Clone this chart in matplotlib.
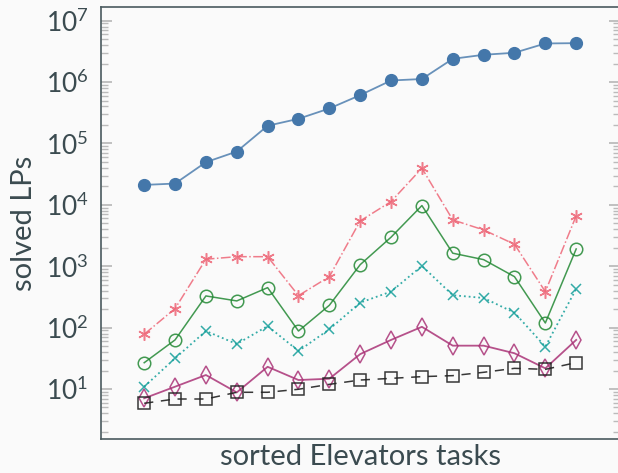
import numpy as np
import matplotlib
matplotlib.use('Agg')
import matplotlib.pyplot as plt
from matplotlib.ticker import LogLocator, FuncFormatter, NullFormatter

tasks = np.arange(1, 16)
lp_blue = [21100, 22200, 49500, 73800, 194000, 252000, 371000, 612000,
           1.06e6, 1.12e6, 2.39e6, 2.78e6, 3.0e6, 4.25e6, 4.3e6]
lp_star = [78, 204, 1300, 1430, 1430, 332, 676, 5470, 11300, 39500,
           5680, 3900, 2280, 385, 6610]
lp_circle = [26.8, 63, 328, 272, 448, 88, 231, 1060, 2970, 9730,
             1630, 1280, 676, 119, 1910]
lp_cross = [10.9, 31.6, 88, 54, 106, 41.6, 94, 255, 386, 1010,
            337, 304, 175, 48.9, 427]
lp_diamond = [7.05, 10.9, 16.9, 8.8, 23, 14, 14.7, 37, 63, 103,
              50.8, 50.8, 38.2, 21.7, 63]
lp_square = [5.85, 6.87, 6.87, 8.84, 8.84, 9.9, 11.9, 14, 14.9, 15.9,
             16.5, 18.7, 21.7, 20.9, 26.9]

txt = '#3b4b50'
plt.rcParams['font.family'] = ['Lato', 'DejaVu Sans']
plt.rcParams['mathtext.fontset'] = 'custom'
plt.rcParams['mathtext.rm'] = 'Lato'

fig = plt.figure(figsize=(6.18, 4.73), dpi=100, facecolor='#fafafa')
ax = fig.add_axes([101/618, 34.3/473, 519/618, 431.4/473], facecolor='#fafafa')

ax.plot(tasks, lp_blue, '-', color='#4477aa', lw=1.3, alpha=0.8)
ax.plot(tasks, lp_blue, 'o', color='#4477aa', ms=8.5)
ax.plot(tasks, lp_star, '-.', marker=(6, 2, 0), color='#ee6677', lw=1.1, ms=9,
        mew=1.1, alpha=0.85)
ax.plot(tasks, lp_circle, '-o', color='#228833', lw=1.1, ms=9, mfc='none', mew=1.1, alpha=0.85)
ax.plot(tasks, lp_cross, ':x', color='#119e99', lw=1.3, ms=6.5, mew=1.1, alpha=0.85)
ax.plot(tasks, lp_diamond, '-d', color='#aa3377', lw=1.3, ms=9, mfc='none', mew=1.1, alpha=0.85)
ax.plot(tasks, lp_square, '--s', color='#222222', lw=1.1, ms=8, mfc='none', mew=1.1,
        dashes=(6, 5), alpha=0.9)

ax.set_yscale('log')
ax.set_xlim(-0.40, 16.42)
ax.set_ylim(1.55, 1.65e7)
ax.set_xticks([])
ax.yaxis.set_major_locator(LogLocator(base=10, numticks=20))
ax.yaxis.set_minor_locator(LogLocator(base=10, subs=np.arange(2, 10), numticks=20))
ax.yaxis.set_minor_formatter(NullFormatter())
ax.yaxis.set_major_formatter(FuncFormatter(
    lambda v, p: r'$\mathregular{10^{%d}}$' % round(np.log10(v))))
ax.tick_params(axis='y', which='both', direction='in', right=True,
               color='#bbbbbb', labelcolor=txt, labelsize=19, pad=9)
ax.tick_params(axis='y', which='major', length=8, width=1.3)
ax.tick_params(axis='y', which='minor', length=5, width=1.0)
for s in ax.spines.values():
    s.set_color('#4a5a5e')
    s.set_linewidth(1.2)

ax.set_ylabel('solved LPs', fontsize=21, color=txt, labelpad=6)
ax.set_xlabel('sorted Elevators tasks', fontsize=21, color=txt, labelpad=4)

fig.savefig('out.png', dpi=100, facecolor='#fafafa')
